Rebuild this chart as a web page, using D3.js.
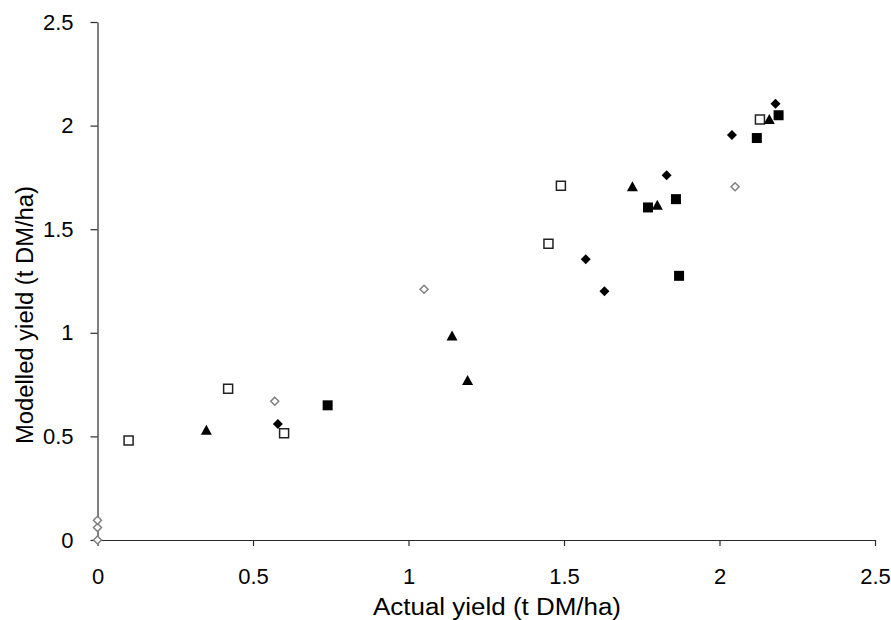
<!DOCTYPE html>
<html>
<head>
<meta charset="utf-8">
<script src="https://cdn.jsdelivr.net/npm/d3@7"></script>
<style>
  html, body { margin: 0; padding: 0; background: #fff; }
  svg { display: block; font-family: "Liberation Sans", Arial, sans-serif; }
</style>
</head>
<body>
<svg id="chart" width="891" height="620"></svg>
<script>
// ---- data ----
const xTicks = [0, 0.5, 1, 1.5, 2, 2.5];
const yTicks = [0, 0.5, 1, 1.5, 2, 2.5];
const xTitle = "Actual yield (t DM/ha)";
const yTitle = "Modelled yield (t DM/ha)";

const openDiamond = [[0, 0], [0, 0.06], [0, 0.095], [0.57, 0.67], [1.05, 1.21], [2.05, 1.705]];
const openSquare = [[0.10, 0.48], [0.42, 0.73], [0.60, 0.515], [1.45, 1.43], [1.49, 1.71], [2.13, 2.03]];
const filledDiamond = [[0.58, 0.56], [1.57, 1.355], [1.63, 1.20], [1.83, 1.76], [2.04, 1.955], [2.18, 2.105]];
const filledSquare = [[0.74, 0.65], [1.77, 1.605], [1.86, 1.645], [1.87, 1.275], [2.12, 1.94], [2.19, 2.05]];
const filledTriangle = [[0.35, 0.53], [1.14, 0.985], [1.19, 0.77], [1.72, 1.705], [1.80, 1.615], [2.16, 2.03]];

// ---- layout ----
const svg = d3.select("#chart");
const mLeft = 97.5, mRight = 875, mTop = 22, mBottom = 540;
const x = d3.scaleLinear().domain([0, 2.5]).range([mLeft, mRight]);
const y = d3.scaleLinear().domain([0, 2.5]).range([mBottom, mTop]);

const axisColor = "#2a2a2a";

// x axis
const gx = svg.append("g").attr("transform", `translate(0,${mBottom})`)
  .call(d3.axisBottom(x).tickValues(xTicks).tickFormat(d3.format("")).tickSizeInner(6).tickSizeOuter(0).tickPadding(22));
gx.select(".domain").attr("stroke", axisColor).attr("stroke-width", 1.2);
gx.selectAll(".tick line").attr("stroke", axisColor).attr("stroke-width", 1.2);
gx.selectAll(".tick text").attr("font-size", 22).attr("fill", "#000")
  .attr("font-family", "Liberation Sans, Arial, sans-serif");

// y axis
const gy = svg.append("g").attr("transform", `translate(${mLeft},0)`)
  .call(d3.axisLeft(y).tickValues(yTicks).tickFormat(d3.format("")).tickSizeInner(7).tickSizeOuter(0).tickPadding(17));
gy.select(".domain").attr("stroke", axisColor).attr("stroke-width", 1.2);
gy.selectAll(".tick line").attr("stroke", axisColor).attr("stroke-width", 1.2);
gy.selectAll(".tick text").attr("font-size", 22).attr("fill", "#000")
  .attr("font-family", "Liberation Sans, Arial, sans-serif");

// titles
svg.append("text").attr("x", 497).attr("y", 615).attr("text-anchor", "middle")
  .attr("font-size", 23).attr("fill", "#000")
  .attr("textLength", 248).attr("lengthAdjust", "spacingAndGlyphs").text(xTitle);
svg.append("text").attr("transform", "translate(33,315) rotate(-90)").attr("text-anchor", "middle")
  .attr("font-size", 23).attr("fill", "#000")
  .attr("textLength", 258).attr("lengthAdjust", "spacingAndGlyphs").text(yTitle);

// markers
const diamondPath = (r) => `M0,${-r}L${r},0L0,${r}L${-r},0Z`;

function plot(data, path, fill, stroke, sw) {
  svg.append("g").selectAll("path").data(data).join("path")
    .attr("transform", d => `translate(${x(d[0])},${y(d[1])})`)
    .attr("d", path)
    .attr("fill", fill)
    .attr("stroke", stroke)
    .attr("stroke-width", sw);
}

plot(openDiamond, diamondPath(4), "#fff", "#808080", 1.5);
plot(openSquare, "M-4.5,-4.5H4.5V4.5H-4.5Z", "#fff", "#222", 1.5);
plot(filledDiamond, diamondPath(5), "#000", "none", 0);
plot(filledSquare, "M-5,-5H5V5H-5Z", "#000", "none", 0);
plot(filledTriangle, "M0,-5.5L5.5,4.5L-5.5,4.5Z", "#000", "none", 0);
</script>
</body>
</html>
